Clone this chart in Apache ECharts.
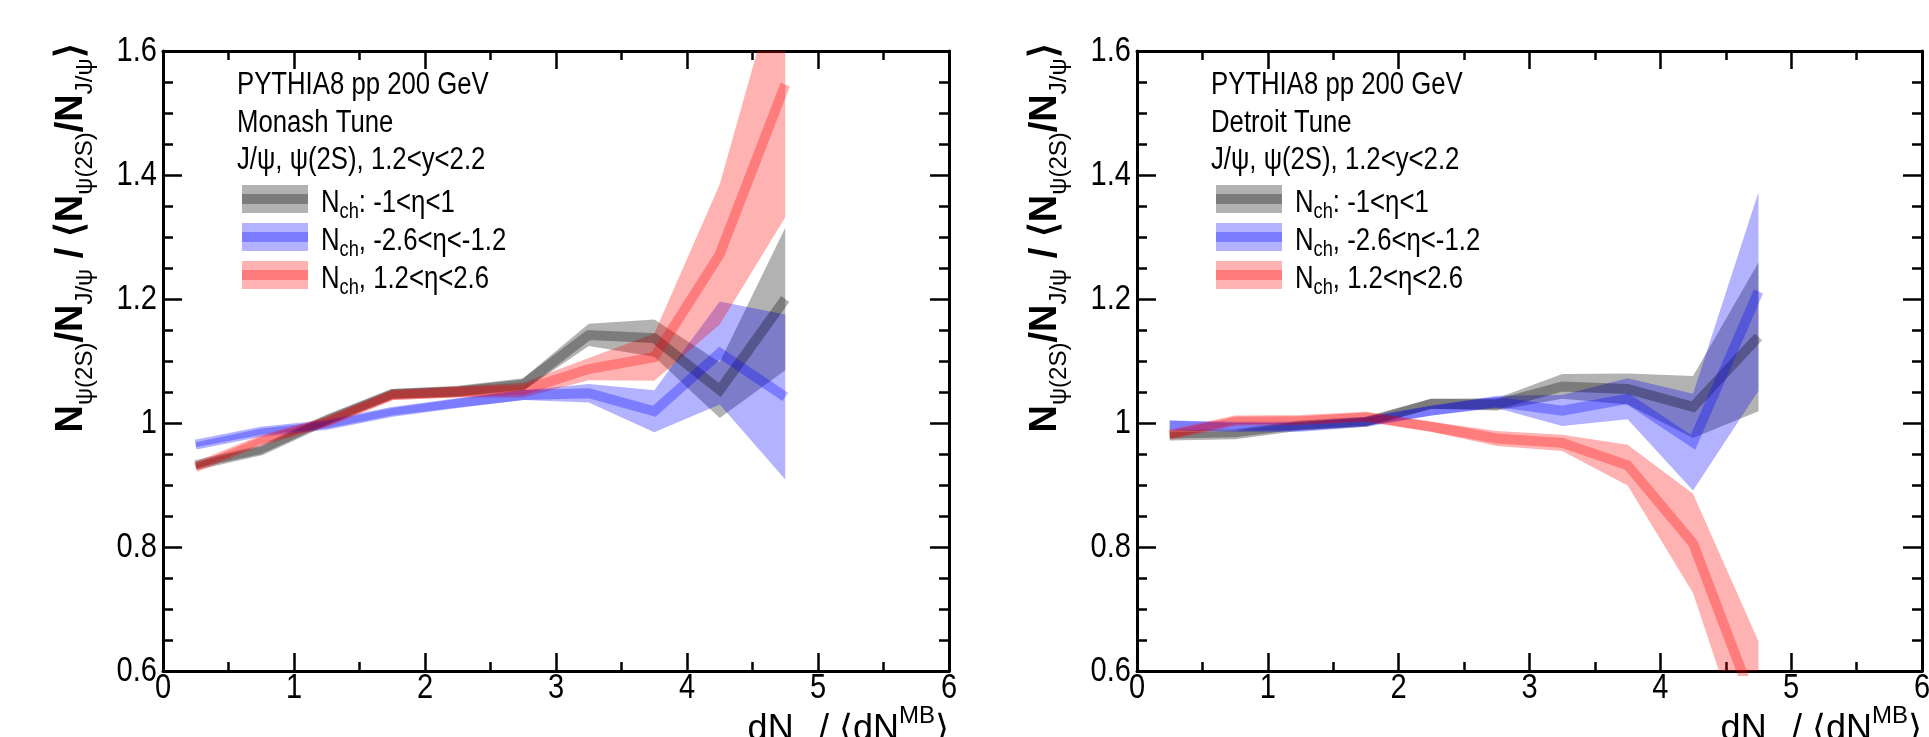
<!DOCTYPE html>
<html><head><meta charset="utf-8">
<script src="https://cdn.jsdelivr.net/npm/echarts@6/dist/echarts.min.js"></script>
<style>html,body{margin:0;padding:0;background:#fff;} #c{width:1929px;height:737px;}</style>
</head><body><div id="c"></div>
<script>
// ---------- data ----------
const xCenters = [0.25, 0.75, 1.25, 1.75, 2.25, 2.75, 3.25, 3.75, 4.25, 4.75];
const xTickValues = [0, 1, 2, 3, 4, 5, 6];
const xTickLabels = ['0', '1', '2', '3', '4', '5', '6'];
const yTickValues = [0.6, 0.8, 1.0, 1.2, 1.4, 1.6];
const yTickLabels = ['0.6', '0.8', '1', '1.2', '1.4', '1.6'];
const panelTitles = ['Monash Tune', 'Detroit Tune'];
const headerLines = ['PYTHIA8 pp 200 GeV', 'J/ψ, ψ(2S), 1.2<y<2.2'];
const legendLabels = ['{t|N}{s|ch}{t|: -1<η<1}', '{t|N}{s|ch}{t|, -2.6<η<-1.2}', '{t|N}{s|ch}{t|, 1.2<η<2.6}'];

// Monash
const monashMid  = [0.932, 0.956, 1.005, 1.047, 1.051, 1.062, 1.142, 1.137, 1.053, 1.200];
const monashErr  = [0.005, 0.006, 0.007, 0.008, 0.009, 0.010, 0.018, 0.030, 0.045, 0.115];
const monashBwdMid = [0.965, 0.986, 0.997, 1.018, 1.032, 1.045, 1.048, 1.019, 1.113, 1.042];
const monashBwdErr = [0.004, 0.005, 0.006, 0.006, 0.007, 0.008, 0.015, 0.034, 0.083, 0.133];
const monashFwdMid = [0.929, 0.972, 1.002, 1.045, 1.050, 1.053, 1.087, 1.106, 1.272, 1.546];
const monashFwdErr = [0.005, 0.006, 0.007, 0.008, 0.009, 0.012, 0.018, 0.038, 0.113, 0.214];
// Detroit
const detroitMid  = [0.980, 0.982, 0.996, 1.002, 1.031, 1.030, 1.059, 1.055, 1.026, 1.139];
const detroitErr  = [0.005, 0.005, 0.006, 0.007, 0.008, 0.010, 0.020, 0.025, 0.050, 0.120];
const detroitBwdMid = [0.996, 0.994, 0.994, 1.002, 1.020, 1.034, 1.020, 1.039, 0.969, 1.212];
const detroitBwdErr = [0.008, 0.006, 0.006, 0.006, 0.008, 0.010, 0.025, 0.033, 0.078, 0.160];
const detroitFwdMid = [0.981, 1.004, 1.005, 1.010, 0.994, 0.975, 0.968, 0.932, 0.806, 0.528];
const detroitFwdErr = [0.006, 0.006, 0.006, 0.007, 0.008, 0.012, 0.013, 0.033, 0.080, 0.120];

// ---------- style ----------
const FONT = "'Liberation Sans', Arial, Helvetica, sans-serif";
const SQ = 0.83; // horizontal squeeze to imitate the condensed Helvetica of the original
const colors = [
  {band: 'rgba(0,0,0,0.30)',   line: 'rgba(0,0,0,0.30)'},
  {band: 'rgba(0,0,255,0.30)', line: 'rgba(0,0,255,0.30)'},
  {band: 'rgba(255,0,0,0.30)', line: 'rgba(255,0,0,0.30)'}
];
const grids = [
  {left: 163, top: 51, width: 786, height: 620},
  {left: 1137, top: 51, width: 785, height: 620}
];

const panels = [
  [[monashMid, monashErr], [monashBwdMid, monashBwdErr], [monashFwdMid, monashFwdErr]],
  [[detroitMid, detroitErr], [detroitBwdMid, detroitBwdErr], [detroitFwdMid, detroitFwdErr]]
];

function xAx(gi, pos) {
  return {
    type: 'value', gridIndex: gi, position: pos, min: 0, max: 6, interval: 1,
    axisLine: {show: true, onZero: false, lineStyle: {color: '#000', width: 3}},
    axisTick: {show: true, inside: true, length: 18, lineStyle: {color: '#000', width: 2.5}},
    minorTick: {show: true, splitNumber: 2, length: 9, lineStyle: {color: '#000', width: 2.5}},
    splitLine: {show: false}, minorSplitLine: {show: false},
    axisLabel: {show: false}
  };
}
function yAx(gi, pos) {
  return {
    type: 'value', gridIndex: gi, position: pos, min: 0.6, max: 1.6, interval: 0.2,
    axisLine: {show: true, onZero: false, lineStyle: {color: '#000', width: 3}},
    axisTick: {show: true, inside: true, length: 19, lineStyle: {color: '#000', width: 2.5}},
    minorTick: {show: true, splitNumber: 4, length: 10, lineStyle: {color: '#000', width: 2.5}},
    splitLine: {show: false}, minorSplitLine: {show: false},
    axisLabel: {show: false}
  };
}

function bandSeries(gi, mid, err, color) {
  const lo = mid.map((m, i) => m - err[i]);
  const hi = mid.map((m, i) => m + err[i]);
  return {
    type: 'custom', xAxisIndex: gi * 2, yAxisIndex: gi * 2, silent: true, animation: false, clip: true,
    data: xCenters.map((x, i) => [x, lo[i], hi[i]]),
    encode: {x: 0, y: [1, 2]},
    renderItem: (params, api) => {
      if (params.dataIndex !== 0) return null;
      const pts = [];
      for (let i = 0; i < xCenters.length; i++) pts.push(api.coord([xCenters[i], hi[i]]));
      for (let i = xCenters.length - 1; i >= 0; i--) pts.push(api.coord([xCenters[i], lo[i]]));
      const cs = params.coordSys;
      return {
        type: 'polygon', shape: {points: pts}, style: {fill: color, stroke: null},
        clipPath: {type: 'rect', shape: {x: cs.x, y: cs.y, width: cs.width, height: cs.height}}
      };
    }
  };
}

const xAxis = [], yAxis = [], series = [];
grids.forEach((g, gi) => {
  xAxis.push(xAx(gi, 'bottom')); xAxis.push(xAx(gi, 'top'));
  yAxis.push(yAx(gi, 'left'));   yAxis.push(yAx(gi, 'right'));
  panels[gi].forEach((ds, si) => {
    const mid = ds[0], err = ds[1];
    series.push(bandSeries(gi, mid, err, colors[si].band));
    series.push({
      type: 'line', xAxisIndex: gi * 2, yAxisIndex: gi * 2, symbol: 'none',
      animation: false, silent: true, clip: true,
      data: xCenters.map((x, i) => [x, mid[i]]),
      lineStyle: {width: 10, color: colors[si].line, cap: 'butt', join: 'miter'}
    });
  });
});

// ---------- text / legend graphics ----------
const graphic = [];
const richLeg = {
  t: {fontFamily: FONT, fontSize: 31, color: '#000'},
  s: {fontFamily: FONT, fontSize: 22, color: '#000', padding: [18, 0, 0, 0]}
};
grids.forEach((g, gi) => {
  const dx = g.left - 163;
  graphic.push({type: 'text', x: 237 + dx, y: 85, scaleX: SQ, silent: true,
    style: {text: headerLines[0], fontFamily: FONT, fontSize: 31, fill: '#000', verticalAlign: 'middle'}});
  graphic.push({type: 'text', x: 237 + dx, y: 123, scaleX: SQ, silent: true,
    style: {text: panelTitles[gi], fontFamily: FONT, fontSize: 31, fill: '#000', verticalAlign: 'middle'}});
  graphic.push({type: 'text', x: 237 + dx, y: 160, scaleX: SQ, silent: true,
    style: {text: headerLines[1], fontFamily: FONT, fontSize: 31, fill: '#000', verticalAlign: 'middle'}});
  const rowY = [199, 237, 275];
  rowY.forEach((ry, k) => {
    graphic.push({type: 'rect', silent: true, shape: {x: 242 + dx, y: ry - 14, width: 66, height: 28},
      style: {fill: colors[k].band}});
    graphic.push({type: 'rect', silent: true, shape: {x: 242 + dx, y: ry - 5, width: 66, height: 10},
      style: {fill: colors[k].line}});
    graphic.push({type: 'text', x: 321 + dx, y: ry + 4, scaleX: SQ, silent: true,
      style: {text: legendLabels[k], rich: richLeg, verticalAlign: 'middle'}});
  });
  // y axis title (rotated)
  graphic.push({type: 'text', x: 72 + dx, y: 238, rotation: Math.PI / 2, silent: true,
    style: {
      text: '{n|N}{s|ψ(2S)}{n|/N}{s|J/ψ}{n| / ⟨N}{s|ψ(2S)}{n|/N}{s|J/ψ}{n|⟩}',
      align: 'center', verticalAlign: 'middle',
      rich: {
        n: {fontFamily: FONT, fontSize: 38, fontWeight: 'bold', color: '#000'},
        s: {fontFamily: FONT, fontSize: 24, color: '#000', padding: [26, 0, 0, 0]}
      }
    }});
  // x axis title (partially below the page)
  graphic.push({type: 'text', x: g.left + g.width, y: 730, silent: true,
    style: {
      text: '{a|dN}{c|ch}{a|/ ⟨dN}{p|MB}{a|⟩}',
      align: 'right', verticalAlign: 'middle',
      rich: {
        a: {fontFamily: FONT, fontSize: 36, color: '#000'},
        c: {fontFamily: FONT, fontSize: 24, color: '#000', padding: [40, 0, 0, 0]},
        p: {fontFamily: FONT, fontSize: 24, color: '#000', padding: [0, 0, 28, 0]}
      }
    }});
});

const chart = echarts.init(document.getElementById('c'), null, {renderer: 'canvas'});
chart.setOption({
  animation: false,
  backgroundColor: '#fff',
  grid: grids.map(g => Object.assign({containLabel: false}, g)),
  xAxis: xAxis, yAxis: yAxis, series: series, graphic: graphic
});

// tick labels, placed through the axes' own scales
const tickGraphics = [];
grids.forEach((g, gi) => {
  const yBottom = chart.convertToPixel({yAxisIndex: gi * 2}, yTickValues[0]);
  const xLeft = chart.convertToPixel({xAxisIndex: gi * 2}, xTickValues[0]);
  xTickValues.forEach((v, k) => {
    tickGraphics.push({type: 'text', silent: true, scaleX: SQ,
      x: chart.convertToPixel({xAxisIndex: gi * 2}, v), y: yBottom + 17,
      style: {text: xTickLabels[k], fontFamily: FONT, fontSize: 35, fill: '#000',
        align: 'center', verticalAlign: 'middle'}});
  });
  yTickValues.forEach((v, k) => {
    tickGraphics.push({type: 'text', silent: true, scaleX: SQ,
      x: xLeft - 6, y: chart.convertToPixel({yAxisIndex: gi * 2}, v),
      style: {text: yTickLabels[k], fontFamily: FONT, fontSize: 35, fill: '#000',
        align: 'right', verticalAlign: 'middle'}});
  });
});
chart.setOption({graphic: graphic.concat(tickGraphics)});
</script>
</body></html>
